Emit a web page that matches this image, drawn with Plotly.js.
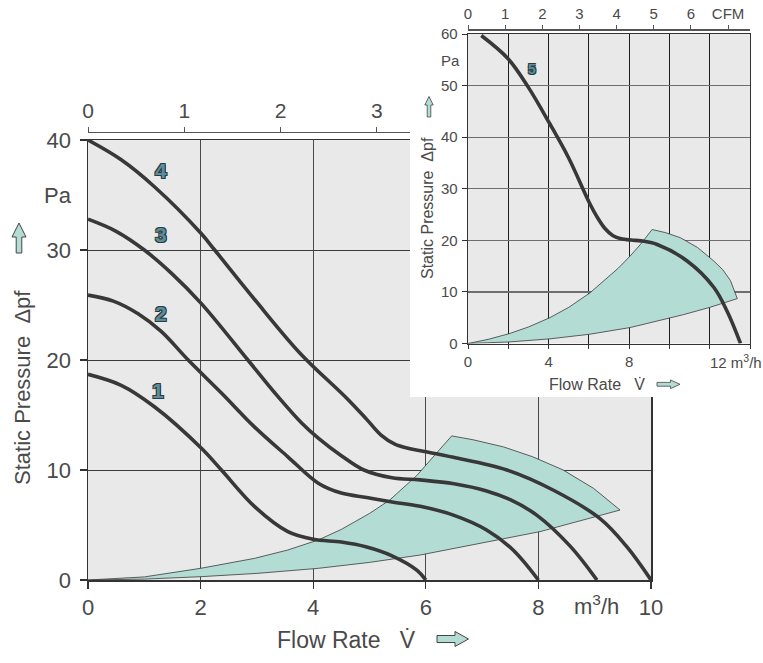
<!DOCTYPE html>
<html><head><meta charset="utf-8">
<script src="https://cdn.plot.ly/plotly-3.0.1.min.js"></script>
<style>html,body{margin:0;padding:0;background:#fff}#chart{width:763px;height:663px}</style>
</head><body><div id="chart"></div>
<script>
// ---------- main chart data (flow m³/h, static pressure Pa) ----------
const curve1X = [0, 0.59, 1.18, 2.01, 2.37, 2.96, 3.55, 4.0, 4.5, 4.95, 5.4, 5.84, 6.0];
const curve1Y = [18.7, 17.7, 15.75, 12.0, 10.0, 6.67, 4.4, 3.7, 3.45, 3.0, 2.2, 0.9, 0];
const curve2X = [0, 0.45, 0.89, 1.3, 1.78, 2.37, 2.96, 3.55, 4.09, 4.5, 4.95, 5.4, 5.9, 6.49, 7.08, 7.55, 8.0];
const curve2Y = [25.9, 25.35, 24.2, 22.6, 20.0, 17.0, 13.9, 11.2, 8.8, 7.9, 7.5, 7.1, 6.7, 5.9, 4.55, 2.73, 0];
const curve3X = [0, 0.5, 1.0, 1.48, 2.01, 2.84, 3.32, 3.79, 4.09, 4.5, 4.9, 5.4, 5.9, 6.5, 7.08, 7.5, 7.97, 8.56, 9.04];
const curve3Y = [32.8, 31.7, 30.0, 27.9, 25.15, 20.0, 17.0, 14.3, 12.9, 11.3, 10.0, 9.3, 9.1, 8.75, 8.1, 7.3, 5.9, 3.1, 0];
const curve4X = [0, 0.59, 1.18, 2.01, 2.25, 2.96, 3.77, 4.6, 4.95, 5.2, 5.45, 5.7, 5.95, 6.49, 7.44, 8.26, 9.09, 9.57, 10.0];
const curve4Y = [40, 38.2, 35.75, 31.5, 30.0, 25.5, 20.6, 16.5, 14.6, 13.2, 12.35, 11.95, 11.7, 11.15, 10.0, 8.18, 5.6, 3.03, 0];
// operating region outline (upper edge, outer arc, lower edge)
const regionMainX = [0, 1, 2, 2.96, 3.55, 4.09, 4.5, 5.0, 5.36, 5.6, 5.84, 6.15, 6.46, 6.84, 7.38, 7.9, 8.44, 8.98, 9.45, 8.03, 7.08, 5.9, 5.0, 4.09, 3.0, 2.0, 1.0, 0];
const regionMainY = [0, 0.28, 1.06, 1.97, 2.73, 3.64, 4.6, 6.05, 7.27, 8.35, 9.5, 11.3, 13.1, 12.75, 12.1, 11.2, 10.0, 8.33, 6.36, 4.4, 3.45, 2.27, 1.6, 1.06, 0.6, 0.3, 0.08, 0];
const mainXTicks = [0, 2, 4, 6, 8, 10];
const mainYTicks = [0, 10, 20, 30, 40];
const mainCfmTicks = [0, 1, 2, 3];

// ---------- inset chart data ----------
const curve5X = [0.66, 1.99, 2.99, 4.06, 4.98, 6.05, 6.4, 6.8, 7.2, 7.6, 8.1, 8.6, 9.39, 10.88, 12.2, 12.87, 13.53];
const curve5Y = [59.7, 55.2, 49.7, 42.6, 36.1, 27.1, 24.6, 22.3, 20.9, 20.3, 20.05, 19.9, 19.2, 16.0, 10.9, 6.2, 0];
const regionInsetX = [0, 1, 2.04, 3, 4.06, 5, 6.05, 6.8, 7.46, 8.06, 8.56, 9.14, 9.8, 10.55, 11.4, 12.2, 12.65, 13.03, 13.37, 12.0, 10.7, 8.06, 6.05, 4.06, 2.04, 0];
const regionInsetY = [0, 0.8, 1.9, 3.2, 5.0, 7.0, 9.8, 12.3, 14.6, 17.0, 19.2, 22.1, 21.5, 20.5, 18.6, 16.0, 14.3, 12.2, 8.7, 7.0, 5.6, 3.1, 1.8, 0.9, 0.3, 0];
const insetXTicks = [0, 4, 8];
const insetXMinor = [2, 6, 10, 12, 14];
const insetYTicks = [0, 10, 20, 30, 40, 50, 60];
const insetCfmTicks = [0, 1, 2, 3, 4, 5, 6, 7];
const insetCfmText = ['0', '1', '2', '3', '4', '5', '6', 'CFM'];

// ---------- geometry helpers (pixels -> paper) ----------
const W = 763, H = 663;
const PX = x => x / W, PY = y => 1 - y / H;
const FONT = 'Liberation Sans, Arial, sans-serif';
const TXT = '#4a4a4a';
const TEAL = '#b3ddd4';
const CURVE = '#383838';

function arrowPath(pts) {
  return 'M' + pts.map(p => PX(p[0]).toFixed(5) + ',' + PY(p[1]).toFixed(5)).join('L') + 'Z';
}

const curveLine = {color: CURVE, width: 3.6, shape: 'spline', smoothing: 1.0};
const traces = [
  {x: regionMainX, y: regionMainY, mode: 'lines', fill: 'toself', fillcolor: TEAL,
   line: {color: '#3a3a3a', width: 0.8}, xaxis: 'x', yaxis: 'y', hoverinfo: 'skip'},
  {x: curve1X, y: curve1Y, mode: 'lines', line: curveLine, xaxis: 'x', yaxis: 'y'},
  {x: curve2X, y: curve2Y, mode: 'lines', line: curveLine, xaxis: 'x', yaxis: 'y'},
  {x: curve3X, y: curve3Y, mode: 'lines', line: curveLine, xaxis: 'x', yaxis: 'y'},
  {x: curve4X, y: curve4Y, mode: 'lines', line: curveLine, xaxis: 'x', yaxis: 'y'},
  {x: [0], y: [0], mode: 'markers', marker: {opacity: 0}, xaxis: 'x4', yaxis: 'y', hoverinfo: 'skip'},
  {x: [0.5], y: [0.5], mode: 'markers', marker: {opacity: 0}, xaxis: 'x2', yaxis: 'y2', hoverinfo: 'skip'},
  {x: regionInsetX, y: regionInsetY, mode: 'lines', fill: 'toself', fillcolor: TEAL,
   line: {color: '#3a3a3a', width: 0.8}, xaxis: 'x3', yaxis: 'y3', hoverinfo: 'skip'},
  {x: curve5X, y: curve5Y, mode: 'lines', line: curveLine, xaxis: 'x3', yaxis: 'y3'},
  {x: [0], y: [0], mode: 'markers', marker: {opacity: 0}, xaxis: 'x5', yaxis: 'y3', hoverinfo: 'skip'}
];

const mainTickFont = {family: FONT, size: 22, color: TXT};
const insetTickFont = {family: FONT, size: 15, color: TXT};

const layout = {
  width: W, height: H,
  margin: {l: 0, r: 0, t: 0, b: 0},
  paper_bgcolor: '#ffffff', plot_bgcolor: '#e9e9e9',
  showlegend: false,
  font: {family: FONT, color: TXT},
  xaxis: {domain: [PX(88), PX(651)], range: [0, 10], anchor: 'y',
    tickmode: 'array', tickvals: mainXTicks,
    ticks: 'outside', ticklen: 7, tickcolor: '#333', tickwidth: 1.2,
    showgrid: true, gridcolor: '#4a4a4a', gridwidth: 1,
    showline: true, mirror: true, linecolor: '#333', linewidth: 1.5,
    zeroline: false, tickfont: mainTickFont, fixedrange: true},
  yaxis: {domain: [PY(580), PY(140)], range: [0, 40], anchor: 'x',
    tickmode: 'array', tickvals: mainYTicks,
    ticks: 'outside', ticklen: 7, tickcolor: '#333', tickwidth: 1.2,
    ticklabelstandoff: 4,
    showgrid: true, gridcolor: '#3a3a3a', gridwidth: 1,
    showline: true, mirror: true, linecolor: '#333', linewidth: 1.5,
    zeroline: false, tickfont: mainTickFont, fixedrange: true},
  xaxis4: {overlaying: 'x', anchor: 'free', position: PY(131.5), side: 'top',
    range: [0, 5.85], tickmode: 'array', tickvals: mainCfmTicks,
    ticks: 'outside', ticklen: 5, tickcolor: '#555',
    showline: true, linecolor: '#555', linewidth: 1.2,
    showgrid: false, zeroline: false, tickfont: {family: FONT, size: 21, color: TXT}, fixedrange: true},
  xaxis2: {domain: [PX(410), 1], range: [0, 1], anchor: 'y2', visible: false, fixedrange: true},
  yaxis2: {domain: [PY(397), 1], range: [0, 1], anchor: 'x2', visible: false, fixedrange: true},
  xaxis3: {domain: [PX(468), PX(750)], range: [0, 14], anchor: 'y3',
    tickmode: 'array', tickvals: insetXTicks,
    ticks: 'outside', ticklen: 4, tickcolor: '#333',
    showgrid: true, gridcolor: '#1e1e1e', gridwidth: 1,
    minor: {tickmode: 'array', tickvals: insetXMinor, ticks: 'outside', ticklen: 4, tickcolor: '#333',
      showgrid: true, gridcolor: '#1e1e1e', gridwidth: 1},
    showline: true, mirror: true, linecolor: '#333', linewidth: 1.3,
    zeroline: false, tickfont: insetTickFont, fixedrange: true},
  yaxis3: {domain: [PY(343.5), PY(34)], range: [0, 60], anchor: 'x3',
    tickmode: 'array', tickvals: insetYTicks,
    ticks: 'outside', ticklen: 5, tickcolor: '#333', ticklabelstandoff: 1,
    showgrid: true, gridcolor: '#6e6e6e', gridwidth: 1.2,
    showline: true, mirror: true, linecolor: '#333', linewidth: 1.3,
    zeroline: false, tickfont: insetTickFont, fixedrange: true},
  xaxis5: {overlaying: 'x3', anchor: 'free', position: PY(29.3), side: 'top',
    range: [0, 7.59], tickmode: 'array', tickvals: insetCfmTicks, ticktext: insetCfmText,
    ticks: 'outside', ticklen: 4, tickcolor: '#555',
    showline: true, linecolor: '#555', linewidth: 1.2,
    showgrid: false, zeroline: false, tickfont: {family: FONT, size: 15, color: TXT}, fixedrange: true},
  shapes: [
    {type: 'rect', xref: 'x2', yref: 'y2', x0: 0, x1: 1, y0: 0, y1: 1,
     fillcolor: '#ffffff', line: {width: 0}, layer: 'below'},
    {type: 'path', xref: 'paper', yref: 'paper', layer: 'above', fillcolor: TEAL, line: {color: '#444', width: 1},
     path: arrowPath([[19,223],[26,237],[21.8,237],[21.8,253],[16.2,253],[16.2,237],[12,237]])},
    {type: 'path', xref: 'paper', yref: 'paper', layer: 'above', fillcolor: TEAL, line: {color: '#444', width: 1},
     path: arrowPath([[437,635.5],[455,635.5],[455,631.5],[468.5,639],[455,646.5],[455,642.5],[437,642.5]])},
    {type: 'path', xref: 'paper', yref: 'paper', layer: 'above', fillcolor: TEAL, line: {color: '#444', width: 0.8},
     path: arrowPath([[429,96.5],[433.2,105],[430.8,105],[430.8,117],[427.2,117],[427.2,105],[424.8,105]])},
    {type: 'path', xref: 'paper', yref: 'paper', layer: 'above', fillcolor: TEAL, line: {color: '#444', width: 0.8},
     path: arrowPath([[657,382.4],[670.5,382.4],[670.5,380],[680,384.3],[670.5,388.6],[670.5,386.2],[657,386.2]])}
  ],
  annotations: []
};

function addText(text, x, y, opts) {
  layout.annotations.push(Object.assign({text: text, x: PX(x), y: PY(y), xref: 'paper', yref: 'paper',
    showarrow: false, xanchor: 'center', yanchor: 'middle',
    font: {family: FONT, size: 22, color: TXT}}, opts || {}));
}
// main titles and units
addText('Flow Rate\u00a0\u00a0\u00a0V\u0307', 275, 640, {xanchor: 'left', font: {family: FONT, size: 23, color: TXT}});
addText('Static Pressure\u00a0\u00a0\u0394pf', 22, 388, {textangle: -90, font: {family: FONT, size: 22, color: TXT}});
addText('Pa', 58, 195);
addText('m<sup>3</sup>/h', 596, 605);
// inset titles and units
addText('Flow Rate\u00a0\u00a0\u00a0V\u0307', 547, 384, {xanchor: 'left', font: {family: FONT, size: 16, color: TXT}});
addText('Static Pressure\u00a0\u00a0\u0394pf', 427, 208, {textangle: -90, font: {family: FONT, size: 16, color: TXT}});
addText('Pa', 450, 60, {font: {family: FONT, size: 15, color: TXT}});
addText('12 m<sup>3</sup>/h', 708, 362, {xanchor: 'left', font: {family: FONT, size: 15, color: TXT}});

// curve number labels
const labelNames = ['1', '2', '3', '4'];
const labelPos = [[1.25, 17.2], [1.3, 24.2], [1.3, 31.4], [1.3, 37.2]];
const outline = '1px 1px 0 #2d3b40, -1px -1px 0 #2d3b40, 1px -1px 0 #2d3b40, -1px 1px 0 #2d3b40';
labelNames.forEach((t, i) => {
  layout.annotations.push({text: t, x: labelPos[i][0], y: labelPos[i][1], xref: 'x', yref: 'y',
    showarrow: false, font: {family: FONT, size: 21, color: '#5b8e9a', weight: 'bold', shadow: outline}});
});
layout.annotations.push({text: '5', x: 3.17, y: 53.3, xref: 'x3', yref: 'y3', showarrow: false,
  font: {family: FONT, size: 14, color: '#5b8e9a', weight: 'bold', shadow: outline}});

Plotly.newPlot('chart', traces, layout, {displayModeBar: false, staticPlot: true});
</script>
</body></html>
